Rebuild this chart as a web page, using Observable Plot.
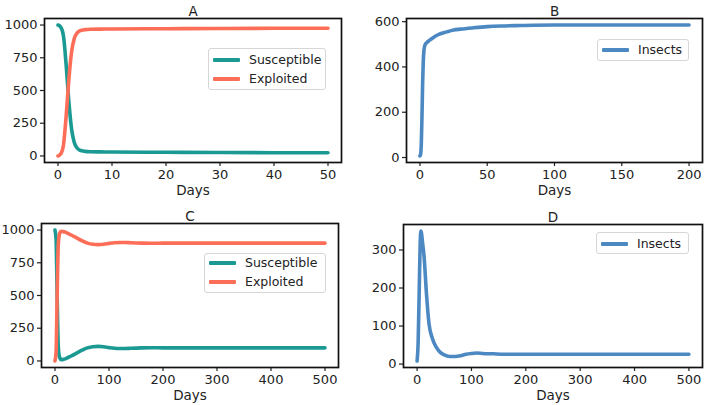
<!DOCTYPE html>
<html>
<head>
<meta charset="utf-8">
<script src="https://cdn.jsdelivr.net/npm/d3@7"></script>
<script src="https://cdn.jsdelivr.net/npm/@observablehq/plot@0.6"></script>
<style>
  html, body { margin: 0; padding: 0; background: #fff; }
  #root { position: relative; width: 708px; height: 405px; overflow: hidden; font-family: "DejaVu Sans", sans-serif; }
  .panel { position: absolute; }
  .legend { position: absolute; border: 1px solid #d6d6d6; border-radius: 3px; background: rgba(255,255,255,0.85); box-sizing: border-box; }
  .legend .sw { position: absolute; height: 4px; border-radius: 1px; }
  .legend .lt { position: absolute; font-size: 12.5px; line-height: 15px; color: #222; white-space: nowrap; }
</style>
</head>
<body>
<div id="root"></div>
<script>
// ---------- Data ----------
// Panel A
const A_days        = [0, 0.5, 1, 1.5, 2, 2.5, 3, 3.5, 4, 5, 6, 8, 10, 20, 30, 40, 50];
const A_susceptible = [1000, 985, 920, 700, 420, 210, 105, 62, 45, 35, 32, 31, 30, 28, 26, 25, 25];
const A_exploited   = [0, 15, 80, 300, 580, 790, 895, 938, 955, 965, 968, 969, 970, 972, 974, 975, 975];
// Panel B
const B_days    = [0, 0.5, 1, 1.5, 2, 2.5, 3, 3.5, 4, 5, 7, 10, 13, 20, 25, 30, 40, 50, 60, 75, 100, 150, 200];
const B_insects = [7, 15, 60, 180, 330, 430, 475, 492, 500, 507, 517, 530, 541, 555, 563, 567, 573, 578, 581, 583, 585, 585, 585];
// Panel C
const C_days        = [0, 2, 4, 6, 8, 10, 12, 15, 20, 30, 40, 50, 60, 70, 80, 90, 100, 110, 120, 130, 140, 160, 180, 200, 250, 300, 400, 500];
const C_susceptible = [1000, 930, 500, 120, 35, 15, 10, 12, 18, 38, 60, 82, 100, 109, 111, 108, 102, 97, 95, 95, 97, 100, 101, 100, 100, 100, 100, 100];
const C_exploited   = [0, 70, 500, 880, 965, 985, 990, 988, 982, 962, 940, 918, 900, 891, 889, 892, 898, 903, 905, 905, 903, 900, 899, 900, 900, 900, 900, 900];
// Panel D
const D_days    = [0, 2, 4, 6, 7, 8, 10, 13, 17, 22, 28, 35, 41, 50, 60, 70, 80, 90, 100, 110, 120, 140, 160, 200, 300, 400, 500];
const D_insects = [8, 60, 200, 330, 350, 345, 320, 280, 190, 105, 68, 45, 33, 24, 20, 20, 22, 26, 28, 29, 28, 27, 26, 26, 26, 26, 26];

// Tick labels
const A_xTicks = [0, 10, 20, 30, 40, 50];
const A_yTicks = [0, 250, 500, 750, 1000];
const B_xTicks = [0, 50, 100, 150, 200];
const B_yTicks = [0, 200, 400, 600];
const C_xTicks = [0, 100, 200, 300, 400, 500];
const C_yTicks = [0, 250, 500, 750, 1000];
const D_xTicks = [0, 100, 200, 300, 400, 500];
const D_yTicks = [0, 100, 200, 300];

const titles = ["A", "B", "C", "D"];
const xLabel = "Days";
const seriesNames = { S: "Susceptible", E: "Exploited", I: "Insects" };
const colors = { S: "#1b9a93", E: "#fd6e58", I: "#4c89c2" };

// ---------- Helpers ----------
const root = document.getElementById("root");
const toRows = (days, vals) => days.map((t, i) => ({ t, v: vals[i] }));

function panel({ left, top, width, height, margins, xDomain, yDomain, xTicks, yTicks, series, title, legend }) {
  const div = document.createElement("div");
  div.className = "panel";
  div.style.left = left + "px";
  div.style.top = top + "px";
  root.appendChild(div);

  const marks = [];
  for (const s of series) {
    marks.push(Plot.line(toRows(s.days, s.values), {
      x: "t", y: "v", stroke: colors[s.key], strokeWidth: 3.6, curve: "monotone-x"
    }));
  }
  marks.push(
    Plot.axisX({ ticks: xTicks, tickSize: 4, tickPadding: 3, tickFormat: d3.format("d"), label: null, stroke: "#222", strokeWidth: 1.2, fontSize: 13 }),
    Plot.axisY({ ticks: yTicks, tickSize: 4, tickPadding: 3, tickFormat: d3.format("d"), label: null, stroke: "#222", strokeWidth: 1.2, fontSize: 13 }),
    Plot.frame({ stroke: "#111", strokeWidth: 1.7 }),
    Plot.text([title], { frameAnchor: "top", lineAnchor: "bottom", dy: -3, fontSize: 13.5, fill: "#222" }),
    Plot.text([xLabel], { frameAnchor: "bottom", lineAnchor: "middle", dy: 28, fontSize: 13.5, fill: "#222" })
  );

  const chart = Plot.plot({
    width, height,
    marginLeft: margins[0], marginRight: margins[1], marginTop: margins[2], marginBottom: margins[3],
    x: { domain: xDomain },
    y: { domain: yDomain },
    style: { fontFamily: "DejaVu Sans, sans-serif", fontSize: "13px", color: "#222", background: "transparent", overflow: "visible" },
    marks
  });
  div.appendChild(chart);

  // legend (HTML)
  const lg = document.createElement("div");
  lg.className = "legend";
  lg.style.left = legend.left + "px";
  lg.style.top = legend.top + "px";
  lg.style.width = legend.width + "px";
  lg.style.height = legend.height + "px";
  series.forEach((s, i) => {
    const cy = legend.firstRow + i * 18.4;
    const sw = document.createElement("div");
    sw.className = "sw";
    sw.style.left = "4px";
    sw.style.width = "27px";
    sw.style.top = (cy - 2) + "px";
    sw.style.background = colors[s.key];
    const tx = document.createElement("div");
    tx.className = "lt";
    tx.style.left = "40px";
    tx.style.top = (cy - 8) + "px";
    tx.textContent = seriesNames[s.key];
    lg.appendChild(sw);
    lg.appendChild(tx);
  });
  root.appendChild(lg);
}

// ---------- Panels ----------
panel({
  left: 0, top: 0, width: 354, height: 200, margins: [44, 13, 18, 38],
  xDomain: [-2.5, 52.5], yDomain: [-50, 1050], xTicks: A_xTicks, yTicks: A_yTicks,
  series: [{ key: "S", days: A_days, values: A_susceptible }, { key: "E", days: A_days, values: A_exploited }],
  title: titles[0],
  legend: { left: 208, top: 48, width: 118, height: 42, firstRow: 11.2 }
});
panel({
  left: 354, top: 0, width: 354, height: 200, margins: [52, 6, 18, 38],
  xDomain: [-10, 210], yDomain: [-22, 614], xTicks: B_xTicks, yTicks: B_yTicks,
  series: [{ key: "I", days: B_days, values: B_insects }],
  title: titles[1],
  legend: { left: 597, top: 39, width: 92, height: 22, firstRow: 10.3 }
});
panel({
  left: 0, top: 200, width: 354, height: 205, margins: [41, 16, 23, 38],
  xDomain: [-25, 525], yDomain: [-50, 1050], xTicks: C_xTicks, yTicks: C_yTicks,
  series: [{ key: "S", days: C_days, values: C_susceptible }, { key: "E", days: C_days, values: C_exploited }],
  title: titles[2],
  legend: { left: 204, top: 253, width: 122, height: 40, firstRow: 9.3 }
});
panel({
  left: 354, top: 200, width: 354, height: 205, margins: [49, 6, 24, 38],
  xDomain: [-25, 525], yDomain: [-9, 367], xTicks: D_xTicks, yTicks: D_yTicks,
  series: [{ key: "I", days: D_days, values: D_insects }],
  title: titles[3],
  legend: { left: 596, top: 232, width: 93, height: 22, firstRow: 10.7 }
});
</script>
</body>
</html>
